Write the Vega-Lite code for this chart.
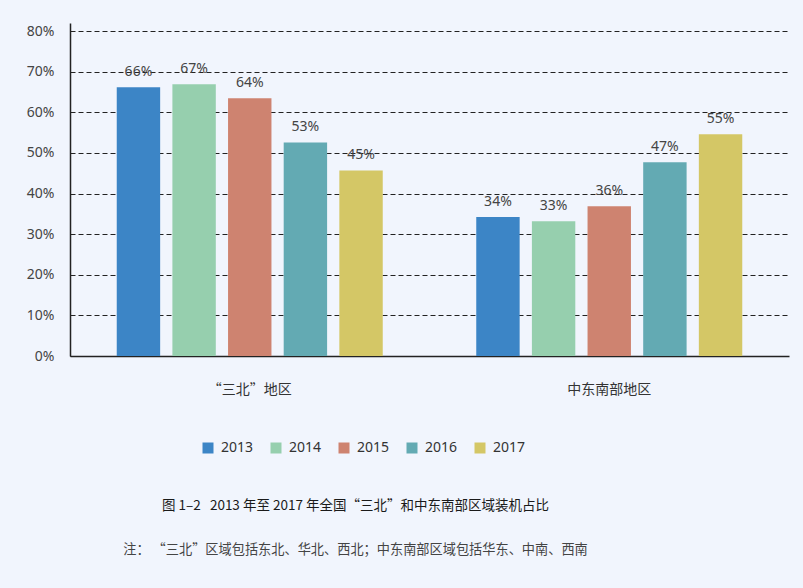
{
  "$schema": "https://vega.github.io/schema/vega-lite/v6.json",
  "width": 719,
  "height": 333,
  "autosize": "none",
  "padding": {"left": 70, "top": 23, "right": 14, "bottom": 232},
  "background": "#F1F5FD",
  "data": {
    "values": [
      {"region": "“三北”地区", "year": "2013", "value": 66.2, "label": "66%"},
      {"region": "“三北”地区", "year": "2014", "value": 66.9, "label": "67%"},
      {"region": "“三北”地区", "year": "2015", "value": 63.5, "label": "64%"},
      {"region": "“三北”地区", "year": "2016", "value": 52.6, "label": "53%"},
      {"region": "“三北”地区", "year": "2017", "value": 45.7, "label": "45%"},
      {"region": "中东南部地区", "year": "2013", "value": 34.2, "label": "34%"},
      {"region": "中东南部地区", "year": "2014", "value": 33.2, "label": "33%"},
      {"region": "中东南部地区", "year": "2015", "value": 36.9, "label": "36%"},
      {"region": "中东南部地区", "year": "2016", "value": 47.7, "label": "47%"},
      {"region": "中东南部地区", "year": "2017", "value": 54.6, "label": "55%"}
    ]
  },
  "title": {
    "text": "图 1–2\u00a0\u00a0\u00a02013 年至 2017 年全国“三北”和中东南部区域装机占比",
    "subtitle": "注： “三北”区域包括东北、华北、西北；中东南部区域包括华东、中南、西南",
    "orient": "bottom",
    "anchor": "middle",
    "frame": "group",
    "dx": -74,
    "offset": 44,
    "font": "Noto Sans CJK SC",
    "fontSize": 13.5,
    "fontWeight": "normal",
    "color": "#1a1a1a",
    "subtitleFont": "Noto Sans CJK SC",
    "subtitleFontSize": 13.2,
    "subtitleColor": "#444444",
    "subtitlePadding": 31
  },
  "encoding": {
    "x": {
      "field": "region",
      "type": "nominal",
      "sort": ["“三北”地区", "中东南部地区"],
      "title": null,
      "scale": {"paddingInner": 0, "paddingOuter": 0},
      "axis": {
        "labelAngle": 0,
        "ticks": false,
        "domainColor": "#222222",
        "domainWidth": 1.5,
        "labelPadding": 26,
        "labelFontSize": 14,
        "labelColor": "#333333",
        "labelFont": "Noto Sans CJK SC"
      }
    },
    "xOffset": {
      "field": "year",
      "type": "nominal",
      "scale": {"paddingInner": 0.22, "paddingOuter": 0.84}
    },
    "y": {
      "field": "value",
      "type": "quantitative",
      "title": null,
      "scale": {"domain": [0, 82], "nice": false},
      "axis": {
        "values": [0, 10, 20, 30, 40, 50, 60, 70, 80],
        "labelExpr": "datum.value + '%'",
        "ticks": false,
        "domainColor": "#222222",
        "domainWidth": 1.5,
        "gridColor": "#222222",
        "gridDash": [5, 3],
        "gridWidth": 1,
        "labelPadding": 16,
        "labelFontSize": 14,
        "labelColor": "#444444",
        "labelFont": "Noto Sans"
      }
    }
  },
  "layer": [
    {
      "mark": {"type": "bar"},
      "encoding": {
        "color": {
          "field": "year",
          "type": "nominal",
          "scale": {
            "domain": ["2013", "2014", "2015", "2016", "2017"],
            "range": ["#3C85C6", "#96CFAE", "#CE8370", "#63AAB3", "#D4C766"]
          },
          "legend": {
            "title": null,
            "orient": "none",
            "direction": "horizontal",
            "legendX": 131,
            "legendY": 418,
            "symbolType": "square",
            "symbolSize": 121,
            "symbolStrokeWidth": 0,
            "labelFontSize": 14,
            "labelColor": "#333333",
            "labelFont": "Noto Sans",
            "labelOffset": 6,
            "columnPadding": 15
          }
        }
      }
    },
    {
      "mark": {
        "type": "text",
        "baseline": "bottom",
        "dy": -8,
        "fontSize": 14,
        "font": "Noto Sans",
        "color": "#444444"
      },
      "encoding": {
        "text": {"field": "label"}
      }
    }
  ],
  "config": {
    "view": {"stroke": null}
  }
}
